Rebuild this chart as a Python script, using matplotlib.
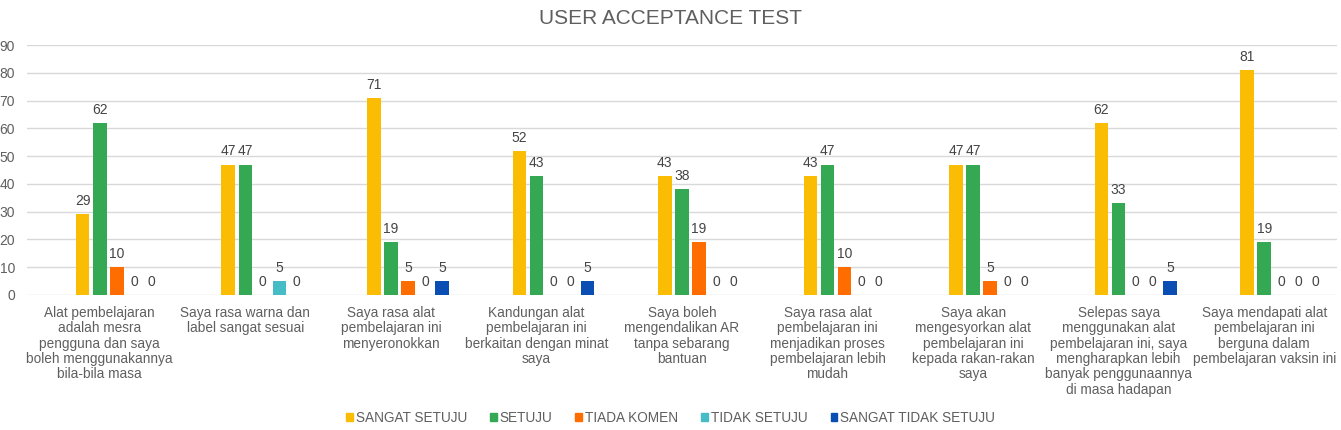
import matplotlib.pyplot as plt
from matplotlib.patches import Patch
import numpy as np

plt.rcParams['font.family'] = ['Liberation Sans', 'DejaVu Sans']

# soalan (kategori) dan bilangan respons (%)
questions = [
    'Alat pembelajaran\nadalah mesra\npengguna dan saya\nboleh menggunakannya\nbila-bila masa',
    'Saya rasa warna dan\nlabel sangat sesuai',
    'Saya rasa alat\npembelajaran ini\nmenyeronokkan',
    'Kandungan alat\npembelajaran ini\nberkaitan dengan minat\nsaya',
    'Saya boleh\nmengendalikan AR\ntanpa sebarang\nbantuan',
    'Saya rasa alat\npembelajaran ini\nmenjadikan proses\npembelajaran lebih\nmudah',
    'Saya akan\nmengesyorkan alat\npembelajaran ini\nkepada rakan-rakan\nsaya',
    'Selepas saya\nmenggunakan alat\npembelajaran ini, saya\nmengharapkan lebih\nbanyak penggunaannya\ndi masa hadapan',
    'Saya mendapati alat\npembelajaran ini\nberguna dalam\npembelajaran vaksin ini',
]

sangat_setuju = [29, 47, 71, 52, 43, 43, 47, 62, 81]
setuju = [62, 47, 19, 43, 38, 47, 47, 33, 19]
tiada_komen = [10, 0, 5, 0, 19, 10, 5, 0, 0]
tidak_setuju = [0, 5, 0, 0, 0, 0, 0, 0, 0]
sangat_tidak_setuju = [0, 0, 5, 5, 0, 0, 0, 5, 0]

series = [
    ('SANGAT SETUJU', sangat_setuju, '#FBBC04'),
    ('SETUJU', setuju, '#34A853'),
    ('TIADA KOMEN', tiada_komen, '#FF6D01'),
    ('TIDAK SETUJU', tidak_setuju, '#46BDC6'),
    ('SANGAT TIDAK SETUJU', sangat_tidak_setuju, '#0B4EB3'),
]

fig = plt.figure(figsize=(13.41, 4.30), dpi=100)
ax = fig.add_axes([0.0201, 0.314, 0.9769, 0.581])

x = np.arange(len(questions))
step = 0.1175
width = 0.093
text_col = '#444444'

for j, (name, vals, col) in enumerate(series):
    pos = x + (j - 1) * step
    bars = ax.bar(pos, vals, width=width, color=col, label=name, zorder=3)
    for p, v in zip(pos, vals):
        ax.text(p, v + 2.2, str(v), ha='center', va='bottom',
                fontsize=10, color=text_col)

ax.set_xlim(-0.5, len(questions) - 0.5)
ax.set_ylim(0, 90)
ax.set_yticks(range(0, 91, 10))
ax.yaxis.grid(True, color='#d9d9d9', linewidth=1, zorder=0)
ax.set_axisbelow(True)
for s in ax.spines.values():
    s.set_visible(False)
ax.tick_params(axis='y', length=0, pad=8.5, labelsize=10, labelcolor='#5f5f5f')
ax.tick_params(axis='x', length=0, pad=8)
ax.set_xticks(x)
ax.set_xticklabels(questions, fontsize=9.8, color='#5f5f5f', linespacing=1.12,
                   va='top')

fig.text(0.5, 0.958, 'USER ACCEPTANCE TEST', ha='center', va='center',
         fontsize=15, color='#5f5f5f')

handles = [Patch(color=c) for _, _, c in series]
labels = [n for n, _, _ in series]
fig.legend(handles, labels, loc='center', bbox_to_anchor=(0.5, 0.029), ncol=5,
           frameon=False, fontsize=9.8, handlelength=0.5, handleheight=0.5,
           handletextpad=0.2, columnspacing=1.7, labelcolor='#5f5f5f')

fig.savefig('out.png', dpi=100, facecolor='white')
